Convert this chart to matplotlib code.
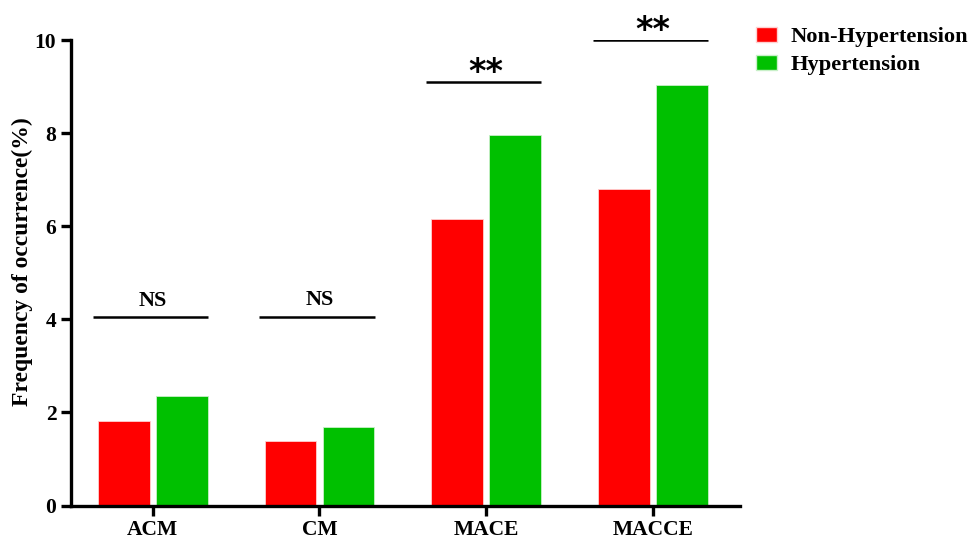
import numpy as np
import matplotlib.pyplot as plt
from matplotlib.patches import Patch

categories = ["ACM", "CM", "MACE", "MACCE"]
non_hypertension = [1.81, 1.38, 6.15, 6.81]
hypertension = [2.35, 1.69, 7.96, 9.04]
sig_labels = ["NS", "NS", "**", "**"]
sig_heights = [4.04, 4.06, 9.09, 9.99]

plt.rcParams["font.family"] = ["Liberation Serif", "DejaVu Serif"]
plt.rcParams["font.weight"] = "bold"

fig = plt.figure(figsize=(9.68, 5.41), dpi=100)
ax = fig.add_axes([0.0733, 0.0656, 0.691, 0.8604])

x = np.arange(len(categories))
w = 0.31
ax.bar(x - 0.174, non_hypertension, w, color="#FF0000", edgecolor="#FFD0D0", linewidth=0.6)
ax.bar(x + 0.174, hypertension, w, color="#00C000", edgecolor="#C8F0C8", linewidth=0.6)

# significance bars above each pair
for xi, h, lab in zip(x, sig_heights, sig_labels):
    ax.plot([xi - 0.36, xi + 0.33], [h, h], color="black", lw=1.8, solid_capstyle="butt")
    if lab == "NS":
        ax.text(xi, h + 0.35, lab, ha="center", va="center", fontsize=16, fontweight="bold")
    else:
        ax.text(xi, h + 0.22, lab, ha="center", va="center", fontsize=24, fontweight="bold",
                family="DejaVu Sans")

ax.set_xlim(-0.49, 3.52)
ax.set_ylim(0, 10)
ax.set_yticks([0, 2, 4, 6, 8, 10])
ax.set_xticks(x)
ax.set_xticklabels(categories)
ax.set_ylabel("Frequency of occurrence(%)", fontsize=17, fontweight="bold")
ax.yaxis.set_label_coords(-0.057, 0.523)

for s in ["top", "right"]:
    ax.spines[s].set_visible(False)
for s in ["left", "bottom"]:
    ax.spines[s].set_linewidth(2.4)
ax.tick_params(axis="both", width=2.4, length=7, labelsize=15.5)
for lbl in ax.get_xticklabels() + ax.get_yticklabels():
    lbl.set_fontweight("bold")

handles = [Patch(facecolor="#FF0000", edgecolor="#FFD0D0"),
           Patch(facecolor="#00C000", edgecolor="#C8F0C8")]
fig.legend(handles, ["Non-Hypertension", "Hypertension"], loc="upper left",
           bbox_to_anchor=(0.781, 0.951), frameon=False, borderpad=0, borderaxespad=0,
           handlelength=0.95, handleheight=0.7, handletextpad=0.58, labelspacing=0.33,
           prop={"weight": "bold", "size": 16.2})

fig.savefig("out.png", dpi=100)
